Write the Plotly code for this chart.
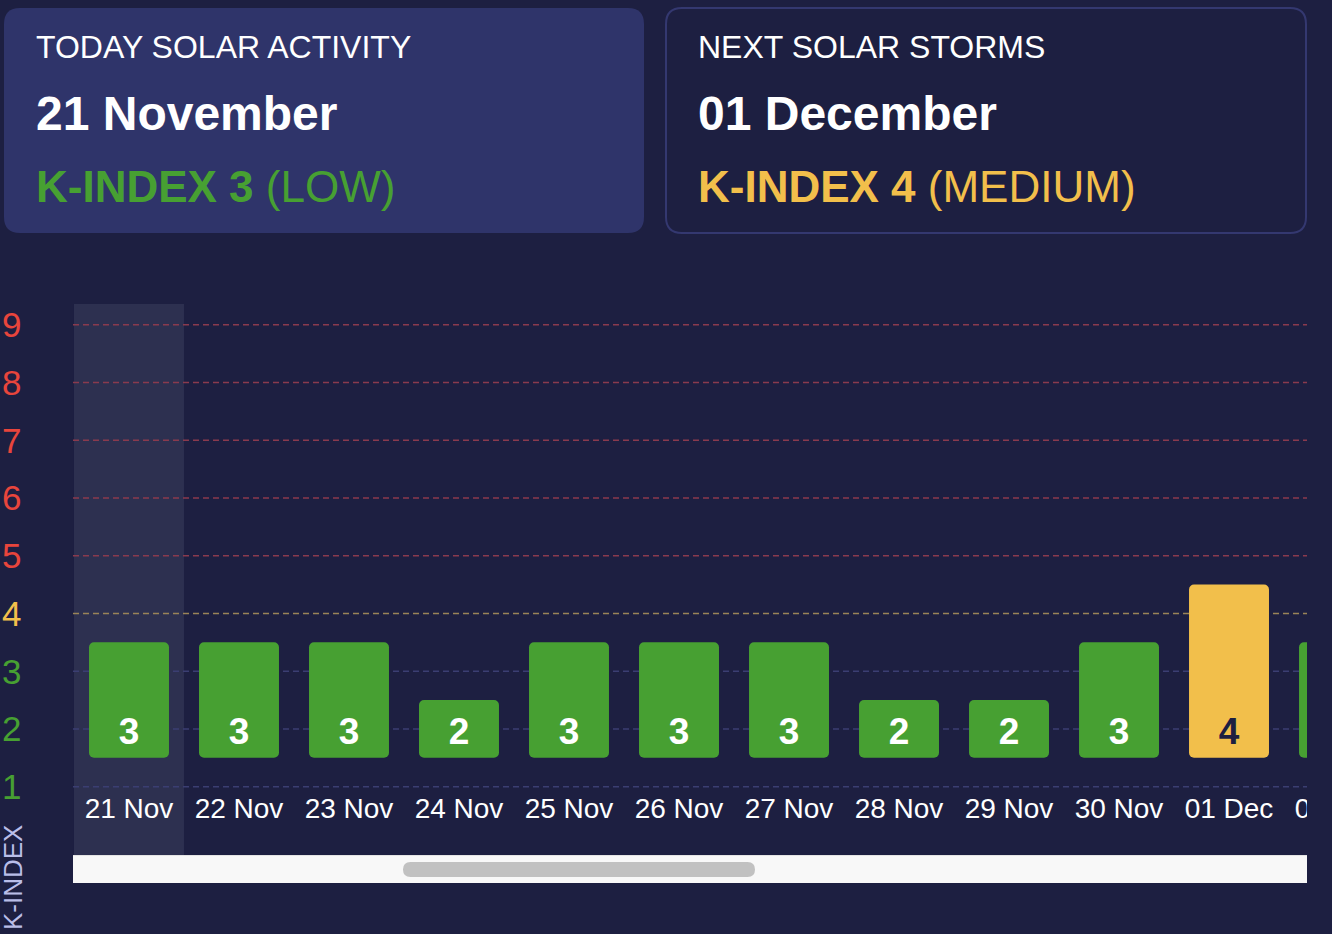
import plotly.graph_objects as go

# ---------------- data ----------------
categories = ["21 Nov", "22 Nov", "23 Nov", "24 Nov", "25 Nov", "26 Nov",
              "27 Nov", "28 Nov", "29 Nov", "30 Nov", "01 Dec", "02 Dec"]
k_values = [3, 3, 3, 2, 3, 3, 3, 2, 2, 3, 4, 3]
today_index = 0
y_levels = [1, 2, 3, 4, 5, 6, 7, 8, 9]

today_title = "TODAY SOLAR ACTIVITY"
today_date = "21 November"
today_k = 3
today_level = "LOW"
next_title = "NEXT SOLAR STORMS"
next_date = "01 December"
next_k = 4
next_level = "MEDIUM"
axis_title = "K-INDEX"

# ---------------- style ----------------
W, H = 1332, 934
BG = "#1d1f41"
CARD = "#2f346a"
CARD_BORDER = "#343870"
HILITE = "#2d3050"
GREEN = "#47a032"
YELLOW = "#f2bf4b"
RED = "#e8453c"
FONT = "Liberation Sans, Arial, Helvetica, sans-serif"


def px(x):
    return x / W


def py(y):
    return 1 - y / H


def level_color(v):
    if v <= 3:
        return GREEN
    if v == 4:
        return YELLOW
    return RED


def grid_color(v):
    if v <= 3:
        return "#3b3e72"
    if v == 4:
        return "#9a8458"
    return "#8a3a4e"


def rounded_rect(x0, y0, x1, y1, r):
    X = lambda v: px(v)
    Y = lambda v: py(v)
    return (f"M {X(x0 + r)} {Y(y0)} L {X(x1 - r)} {Y(y0)} Q {X(x1)} {Y(y0)} {X(x1)} {Y(y0 + r)} "
            f"L {X(x1)} {Y(y1 - r)} Q {X(x1)} {Y(y1)} {X(x1 - r)} {Y(y1)} "
            f"L {X(x0 + r)} {Y(y1)} Q {X(x0)} {Y(y1)} {X(x0)} {Y(y1 - r)} "
            f"L {X(x0)} {Y(y0 + r)} Q {X(x0)} {Y(y0)} {X(x0 + r)} {Y(y0)} Z")


BASE = 1.5
bar_heights = [v + 0.5 - BASE for v in k_values]

fig = go.Figure()
fig.add_trace(go.Bar(
    x=categories, y=bar_heights, base=BASE,
    marker=dict(color=[level_color(v) for v in k_values], line=dict(width=0)),
    width=0.727, hoverinfo="skip", showlegend=False,
))
# value labels in bars
fig.add_trace(go.Scatter(
    x=categories, y=[BASE + 0.4] * len(categories), mode="text",
    text=[f"<b>{v}</b>" for v in k_values],
    textfont=dict(family=FONT, size=37,
                  color=["#ffffff" if v <= 3 else BG for v in k_values]),
    textposition="middle center", cliponaxis=True, hoverinfo="skip", showlegend=False,
))
# x labels (clipped by plot area)
fig.add_trace(go.Scatter(
    x=categories, y=[0.58] * len(categories), mode="text",
    text=categories,
    textfont=dict(family=FONT, size=28, color="#ffffff"),
    textposition="middle center", cliponaxis=True, hoverinfo="skip", showlegend=False,
))

shapes = []
shapes.append(dict(type="path", xref="paper", yref="paper",
                   path=rounded_rect(4, 8, 644, 233, 16),
                   fillcolor=CARD, line=dict(width=0), layer="below"))
shapes.append(dict(type="path", xref="paper", yref="paper",
                   path=rounded_rect(666, 8, 1306, 233, 16),
                   fillcolor=BG, line=dict(color=CARD_BORDER, width=2), layer="below"))
shapes.append(dict(type="rect", xref="x", yref="paper",
                   x0=today_index - 0.5, x1=today_index + 0.5,
                   y0=py(855), y1=py(304),
                   fillcolor=HILITE, line=dict(width=0), layer="below"))
for lv in y_levels:
    shapes.append(dict(type="line", xref="paper", yref="y",
                       x0=px(73), x1=px(1307), y0=lv, y1=lv,
                       line=dict(color=grid_color(lv), width=1.5, dash="6px,4px"),
                       layer="below"))
shapes.append(dict(type="rect", xref="paper", yref="paper",
                   x0=px(73), x1=px(1307), y0=py(883), y1=py(855),
                   fillcolor="#f8f8f8", line=dict(width=0)))
shapes.append(dict(type="line", xref="paper", yref="paper",
                   x0=px(73), x1=px(1307), y0=py(855.5), y1=py(855.5),
                   line=dict(color="#e4e4e4", width=1)))
shapes.append(dict(type="path", xref="paper", yref="paper",
                   path=rounded_rect(403, 862, 755, 877, 7.5),
                   fillcolor="#c1c1c1", line=dict(width=0)))

annotations = []
for lv in y_levels:
    annotations.append(dict(xref="paper", yref="y", x=px(0), y=lv, xanchor="left",
                            yanchor="middle", text=str(lv), showarrow=False,
                            font=dict(family=FONT, size=35, color=level_color(lv))))
annotations.append(dict(xref="paper", yref="paper", x=px(13), y=py(878), text=axis_title,
                        textangle=-90, showarrow=False, xanchor="center", yanchor="middle",
                        font=dict(family=FONT, size=26, color="#b9bde8")))
for x0, title, date, k, lvl in [(36, today_title, today_date, today_k, today_level),
                                (698, next_title, next_date, next_k, next_level)]:
    col = level_color(k)
    annotations.append(dict(xref="paper", yref="paper", x=px(x0 - 2), y=py(47), text=title,
                            xanchor="left", yanchor="middle", showarrow=False,
                            font=dict(family=FONT, size=32, color="#ffffff")))
    annotations.append(dict(xref="paper", yref="paper", x=px(x0 - 2), y=py(113),
                            text=f"<b>{date}</b>",
                            xanchor="left", yanchor="middle", showarrow=False,
                            font=dict(family=FONT, size=48, color="#ffffff")))
    annotations.append(dict(xref="paper", yref="paper", x=px(x0 - 2), y=py(187),
                            text=f"<b>K-INDEX {k}</b> ({lvl})",
                            xanchor="left", yanchor="middle", showarrow=False,
                            font=dict(family=FONT, size=44, color=col)))

fig.update_layout(
    width=W, height=H, margin=dict(l=0, r=0, t=0, b=0),
    paper_bgcolor=BG, plot_bgcolor="rgba(0,0,0,0)",
    barcornerradius=5,
    xaxis=dict(domain=[px(73), px(1307)], range=[-0.509, 10.709], type="category",
               showticklabels=False, showgrid=False, zeroline=False, showline=False,
               fixedrange=True),
    yaxis=dict(domain=[py(855), py(304)], range=[-0.183, 9.358],
               showticklabels=False, showgrid=False, zeroline=False, showline=False,
               fixedrange=True),
    shapes=shapes, annotations=annotations,
    font=dict(family=FONT), showlegend=False,
)
fig.write_html("out.html", config={"displayModeBar": False},
               post_script="document.body.style.margin='0';document.body.style.overflow='hidden';")
